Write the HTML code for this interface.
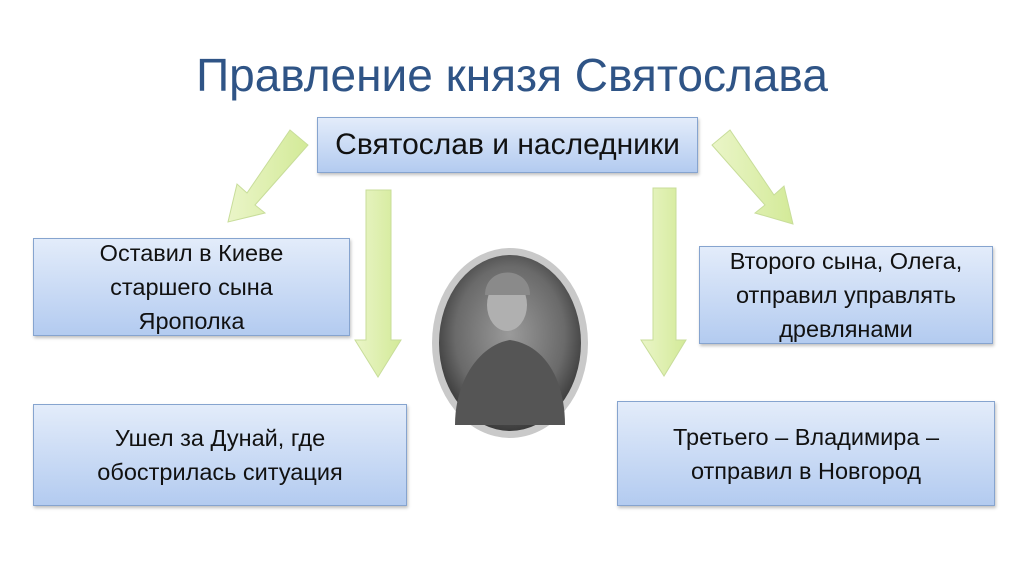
<!DOCTYPE html>
<html><head><meta charset="utf-8"><style>
body{margin:0;width:1024px;height:574px;background:#fff;position:relative;overflow:hidden;font-family:"Liberation Sans","DejaVu Sans",sans-serif}
.t{position:absolute;left:0;width:1024px;top:48px;text-align:center;font-size:46px;color:#2f5486}
.b{position:absolute;box-sizing:border-box;border:1.5px solid #86a4cf;background:linear-gradient(#e3ecfa,#b3cbf0);display:flex;align-items:center;justify-content:center;text-align:center;font-size:23.5px;line-height:34px;color:#111;box-shadow:1px 2px 3px rgba(0,0,0,.25);white-space:nowrap}
svg{position:absolute;left:0;top:0}
</style></head><body>
<div class="t">Правление князя Святослава</div>
<svg width="1024" height="574">
<defs>
<linearGradient id="g" x1="0" x2="1"><stop offset="0" stop-color="#eaf5c8"/><stop offset="1" stop-color="#d3ea98"/></linearGradient>
<radialGradient id="p" cx=".5" cy=".45" r=".55"><stop offset="0" stop-color="#9a9a9a"/><stop offset=".7" stop-color="#6a6a6a"/><stop offset="1" stop-color="#3a3a3a"/></radialGradient>
</defs>
<g fill="url(#g)" stroke="#c8dd9a" stroke-width="1">
<polygon points="366,190 391,190 391,340 401,340 378,377 355,340 366,340"/>
<polygon points="653,188 676,188 676,340 686,340 664,376 641,340 653,340"/>
<polygon points="290,130 308,145 255,205 265,213 228,222 237,184 247,193"/>
<polygon points="730,130 712,145 765,205 755,213 793,224 784,186 774,195"/>
</g>
<ellipse cx="510" cy="343" rx="78" ry="95" fill="#c9c9c9"/>
<ellipse cx="510" cy="343" rx="71" ry="88" fill="url(#p)"/>
<path d="M455,425 C455,380 480,345 510,340 C545,345 565,380 565,425 Z" fill="#555"/>
<ellipse cx="507" cy="305" rx="20" ry="26" fill="#b0b0b0"/>
<path d="M485,295 C485,265 530,265 530,295 Z" fill="#8a8a8a"/>
</svg>
<div class="b" style="left:317px;top:117px;width:381px;height:56px;font-size:30px">Святослав и наследники</div>
<div class="b" style="left:33px;top:238px;width:317px;height:98px">Оставил в Киеве<br>старшего сына<br>Ярополка</div>
<div class="b" style="left:699px;top:246px;width:294px;height:98px">Второго сына, Олега,<br>отправил управлять<br>древлянами</div>
<div class="b" style="left:33px;top:404px;width:374px;height:102px">Ушел за Дунай, где<br>обострилась ситуация</div>
<div class="b" style="left:617px;top:401px;width:378px;height:105px">Третьего – Владимира –<br>отправил в Новгород</div>
</body></html>
